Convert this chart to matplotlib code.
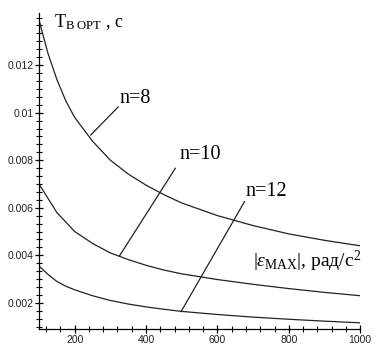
import matplotlib
matplotlib.use('Agg')
import matplotlib.pyplot as plt
from matplotlib.ticker import MultipleLocator, FixedLocator, AutoMinorLocator, FuncFormatter

plt.rcParams['mathtext.fontset'] = 'custom'
plt.rcParams['mathtext.rm'] = 'Liberation Serif'
plt.rcParams['mathtext.it'] = 'Liberation Serif:italic'

# |eps_max|, rad/s^2
eps = [100, 125, 150, 175, 200, 250, 300, 350, 400, 450, 500, 600, 700, 800, 900, 1000]

# optimal time T, s, for n = 8, 10, 12
t_n8 = [0.0139, 0.0125, 0.0114, 0.0105, 0.0098, 0.0088, 0.0080, 0.00742,
        0.00695, 0.00655, 0.0062, 0.00567, 0.00525, 0.0049, 0.00463, 0.0044]
t_n10 = [0.0070, 0.0064, 0.0058, 0.0054, 0.0050, 0.0045, 0.0041, 0.00382,
         0.00358, 0.00338, 0.00322, 0.00298, 0.00278, 0.0026, 0.00244, 0.0023]
t_n12 = [0.00355, 0.0032, 0.0029, 0.0027, 0.00255, 0.0023, 0.0021, 0.00195,
         0.00183, 0.00173, 0.00164, 0.00151, 0.0014, 0.00131, 0.00123, 0.00116]

labels = ['n=8', 'n=10', 'n=12']
y_ticks = [0.002, 0.004, 0.006, 0.008, 0.010, 0.012]

fig = plt.figure(figsize=(3.77, 3.49), dpi=100)
ax = fig.add_axes([0.1034, 0.0573, 0.852, 0.906])

for t in (t_n8, t_n10, t_n12):
    ax.plot(eps, t, color='#222222', lw=0.9)

# leader lines: (point on curve) -> (label corner)
leaders = [((245, 0.00906), (322, 0.01024)),
           ((325, 0.00396), (482, 0.00766)),
           ((498, 0.00163), (676, 0.00626))]
label_pos = [(325, 0.0104), (493, 0.00805), (680, 0.00651)]
for (p0, p1), (tx, ty), s in zip(leaders, label_pos, labels):
    ax.plot([p0[0], p1[0]], [p0[1], p1[1]], color='#222222', lw=0.9)
    ax.text(tx, ty, s, family='Liberation Serif', fontsize=14.5,
            ha='left', va='baseline')

ax.text(143, 0.0136, r'$\mathrm{T}_{\mathrm{B\ OPT}}$ , c',
        family='Liberation Serif', fontsize=13, va='baseline')
ax.text(700, 0.00351, r'$|\varepsilon_{\mathrm{MAX}}|$, рад/с$^{2}$',
        family='Liberation Serif', fontsize=14, va='baseline')

ax.set_xlim(100, 1000)
ax.set_ylim(0.0009, 0.0142)

ax.spines['top'].set_visible(False)
ax.spines['right'].set_visible(False)
for sp in ('left', 'bottom'):
    ax.spines[sp].set_linewidth(0.9)

ax.xaxis.set_major_locator(MultipleLocator(200))
ax.xaxis.set_minor_locator(AutoMinorLocator(5))
ax.yaxis.set_major_locator(FixedLocator(y_ticks))
ax.yaxis.set_minor_locator(AutoMinorLocator(6))
ax.yaxis.set_major_formatter(FuncFormatter(lambda v, p: f'{v:g}'))

ax.tick_params(which='major', direction='inout', length=6, width=0.9,
               labelsize=7.5, pad=1, labelcolor='#222222')
ax.tick_params(which='minor', direction='inout', length=4, width=0.8)
for lab in ax.get_xticklabels() + ax.get_yticklabels():
    lab.set_family('Liberation Sans')

fig.savefig('out.png', dpi=100)
